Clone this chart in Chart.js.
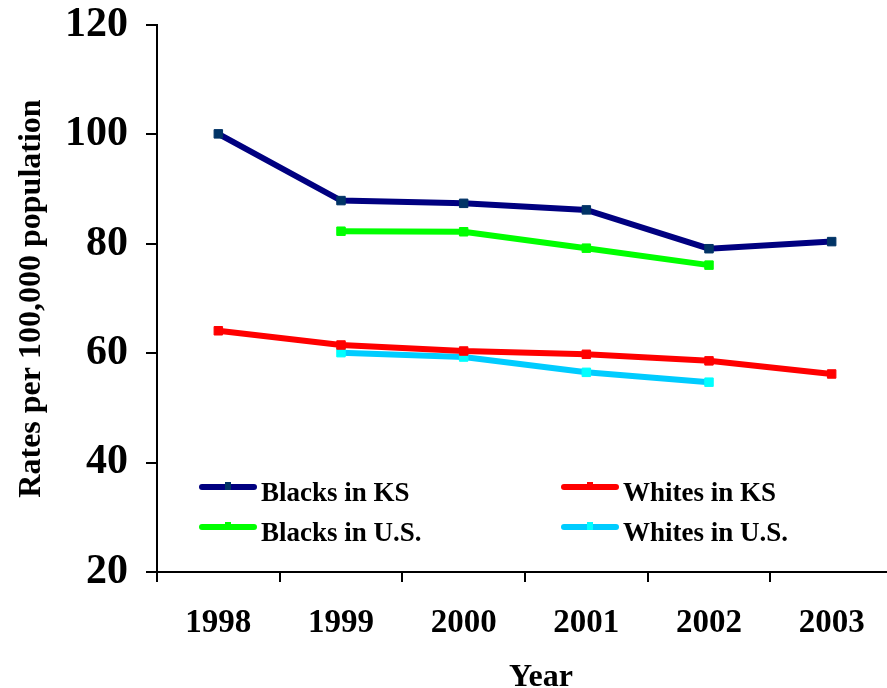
<!DOCTYPE html>
<html>
<head>
<meta charset="utf-8">
<script src="https://cdn.jsdelivr.net/npm/chart.js@4/dist/chart.umd.min.js"></script>
<style>
  html, body { margin: 0; padding: 0; background: #fff; overflow: hidden; }
  #wrap { width: 900px; height: 688px; }
</style>
</head>
<body>
<div id="wrap"><canvas id="rates" width="900" height="688"></canvas></div>
<script>
const years = ['1998', '1999', '2000', '2001', '2002', '2003'];
const yTicks = [20, 40, 60, 80, 100, 120];
const blacksKS = [100.1, 87.9, 87.4, 86.2, 79.1, 80.4];
const blacksUS = [null, 82.3, 82.2, 79.2, 76.1, null];
const whitesKS = [64.1, 61.5, 60.4, 59.8, 58.6, 56.2];
const whitesUS = [null, 60.1, 59.3, 56.5, 54.7, null];
const xTitle = 'Year';

const serif = "'Times New Roman', 'Liberation Serif', serif";
Chart.defaults.font.family = serif;
Chart.defaults.color = '#000';

function series(label, data, line, marker) {
  return {
    label: label,
    data: data,
    borderColor: line,
    borderWidth: 6,
    pointStyle: 'rect',
    pointRadius: 6,
    pointBackgroundColor: marker,
    pointBorderColor: marker,
    pointBorderWidth: 1,
    tension: 0,
    spanGaps: false,
    markerColor: marker
  };
}

// legend inside the plot (two columns) and the x title, which sits a bit right of centre
const insideLegend = {
  id: 'insideLegend',
  afterDatasetsDraw(chart) {
    const ctx = chart.ctx;
    const spots = [
      { x: 202, y: 487 }, { x: 202, y: 527 },
      { x: 564, y: 487 }, { x: 564, y: 527 }
    ];
    ctx.save();
    ctx.font = 'bold 27px ' + serif;
    ctx.textBaseline = 'alphabetic';
    chart.data.datasets.forEach((ds, i) => {
      const p = spots[i];
      ctx.strokeStyle = ds.borderColor;
      ctx.lineWidth = 6;
      ctx.lineCap = 'round';
      ctx.beginPath();
      ctx.moveTo(p.x, p.y);
      ctx.lineTo(p.x + 52, p.y);
      ctx.stroke();
      ctx.fillStyle = ds.markerColor;
      ctx.fillRect(p.x + 23, p.y - 5, 6, 8);
      ctx.fillStyle = '#000';
      ctx.fillText(ds.label, p.x + 59, p.y + 14);
    });

    ctx.font = 'bold 32px ' + serif;
    ctx.textAlign = 'center';
    ctx.fillText(xTitle, 541, 686);
    ctx.restore();
  }
};

new Chart(document.getElementById('rates'), {
  type: 'line',
  data: {
    labels: years,
    datasets: [
      series('Blacks in KS', blacksKS, '#000080', '#003366'),
      series('Blacks in U.S.', blacksUS, '#00FF00', '#00FF00'),
      series('Whites in KS', whitesKS, '#FF0000', '#FF0000'),
      series('Whites in U.S.', whitesUS, '#00CCFF', '#00FFFF')
    ]
  },
  options: {
    responsive: false,
    animation: false,
    layout: { padding: { top: 25, right: 0, bottom: 0, left: 0 } },
    plugins: {
      legend: { display: false },
      tooltip: { enabled: false }
    },
    scales: {
      x: {
        offset: true,
        grid: { offset: true, drawOnChartArea: false, drawTicks: true, tickLength: 10, color: '#000', lineWidth: 2 },
        border: { color: '#000', width: 2 },
        ticks: { font: { size: 33, weight: 'bold' }, padding: 22, maxRotation: 0 },
        afterFit(scale) { scale.height = 116; }
      },
      y: {
        min: yTicks[0],
        max: yTicks[yTicks.length - 1],
        afterBuildTicks(scale) { scale.ticks = yTicks.map(v => ({ value: v })); },
        grid: { drawOnChartArea: false, drawTicks: true, tickLength: 11, color: '#000', lineWidth: 2 },
        border: { color: '#000', width: 2 },
        ticks: { font: { size: 42, weight: 'bold' }, padding: 18 },
        title: { display: true, text: 'Rates per 100,000 population', font: { size: 32, weight: 'bold' }, padding: { top: 13, bottom: 0 } },
        afterFit(scale) {
          scale.width = 157;
          scale.paddingTop = 0;
          scale.paddingBottom = 0;
        }
      }
    }
  },
  plugins: [insideLegend]
});
</script>
</body>
</html>
